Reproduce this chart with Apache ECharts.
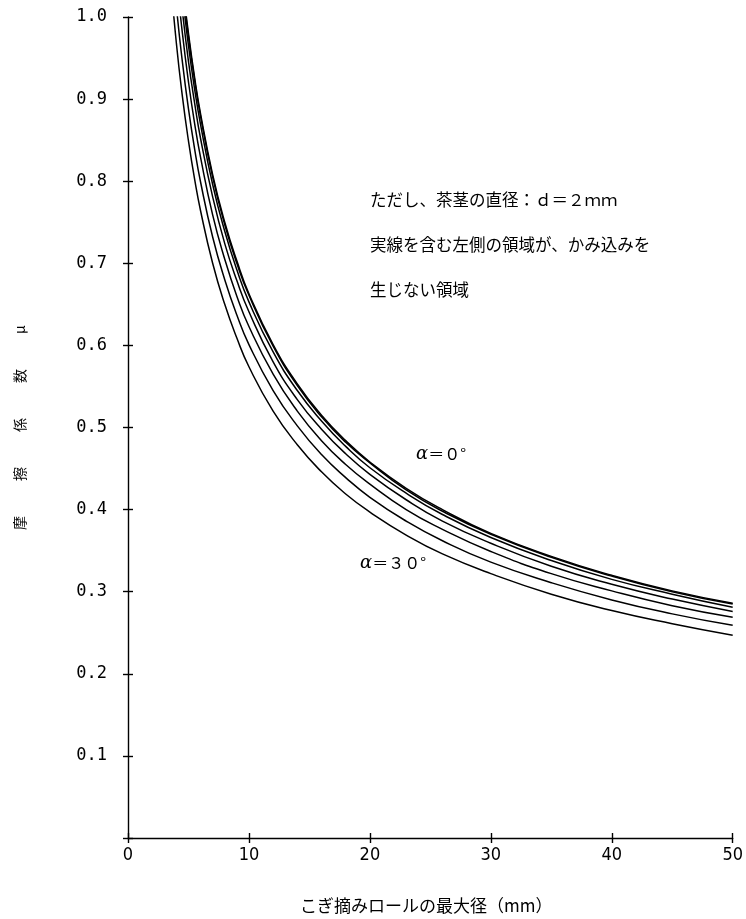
<!DOCTYPE html>
<html>
<head>
<meta charset="utf-8">
<script src="https://cdn.jsdelivr.net/npm/echarts@6/dist/echarts.min.js"></script>
<style>
  html, body { margin: 0; padding: 0; background: #fff; }
  #chart { width: 746px; height: 919px; }
</style>
</head>
<body>
<div id="chart"></div>
<script>
// Maximum roll diameter (mm)
const diameters = [3.5, 4, 4.5, 5, 5.5, 6, 7, 8, 9, 10, 12, 14, 16, 18, 20, 23, 26, 30, 35, 40, 45, 50];

// Friction coefficient limit for each inclination angle α
const alpha0  = [1.212, 1.118, 1.042, 0.980, 0.927, 0.882, 0.808, 0.750, 0.703, 0.663, 0.601, 0.553, 0.515, 0.484, 0.458, 0.426, 0.400, 0.371, 0.343, 0.320, 0.301, 0.286];
const alpha5  = [1.208, 1.114, 1.038, 0.976, 0.924, 0.879, 0.805, 0.747, 0.700, 0.661, 0.599, 0.551, 0.513, 0.482, 0.457, 0.424, 0.398, 0.370, 0.342, 0.319, 0.300, 0.285];
const alpha10 = [1.194, 1.101, 1.027, 0.965, 0.913, 0.869, 0.796, 0.739, 0.692, 0.653, 0.592, 0.545, 0.508, 0.477, 0.451, 0.420, 0.394, 0.366, 0.338, 0.315, 0.297, 0.281];
const alpha15 = [1.171, 1.080, 1.007, 0.946, 0.896, 0.852, 0.781, 0.724, 0.679, 0.641, 0.580, 0.534, 0.498, 0.468, 0.443, 0.412, 0.386, 0.359, 0.331, 0.309, 0.291, 0.276];
const alpha20 = [1.139, 1.051, 0.980, 0.921, 0.871, 0.829, 0.759, 0.705, 0.660, 0.623, 0.565, 0.520, 0.484, 0.455, 0.431, 0.400, 0.376, 0.349, 0.322, 0.301, 0.283, 0.269];
const alpha25 = [1.099, 1.013, 0.945, 0.888, 0.840, 0.799, 0.732, 0.680, 0.637, 0.601, 0.545, 0.502, 0.467, 0.439, 0.415, 0.386, 0.362, 0.336, 0.311, 0.290, 0.273, 0.259];
const alpha30 = [1.050, 0.968, 0.903, 0.849, 0.803, 0.764, 0.700, 0.650, 0.609, 0.574, 0.520, 0.479, 0.446, 0.419, 0.397, 0.369, 0.346, 0.322, 0.297, 0.277, 0.261, 0.247];

const curves = [alpha0, alpha5, alpha10, alpha15, alpha20, alpha25, alpha30];

const xTicks = [0, 10, 20, 30, 40, 50];
const yTickLabels = ['', '0.1', '0.2', '0.3', '0.4', '0.5', '0.6', '0.7', '0.8', '0.9', '1.0'];

const noteLines = [
  'ただし、茶茎の直径：ｄ＝２ｍｍ',
  '実線を含む左側の領域が、かみ込みを',
  '生じない領域'
];

const xTitle = 'こぎ摘みロールの最大径（mm）';
const yTitle = '摩　　\u2002擦　　\u2002係　　\u2002数　　\u2002μ';

const CJK = "'Noto Sans CJK JP', 'Noto Sans CJK SC', sans-serif";
const ink = '#000';

const chart = echarts.init(document.getElementById('chart'), null, { renderer: 'canvas' });

const pairs = arr => arr.map((v, i) => [diameters[i], v]);

const commonX = { type: 'value', min: 0, max: 50, interval: 10, splitLine: { show: false } };
const commonY = { type: 'value', min: 0, max: 1, interval: 0.1, splitLine: { show: false } };
const tickStyle = { color: ink, width: 1.4 };

chart.setOption({
  backgroundColor: '#fff',
  animation: false,
  grid: { left: 128, right: 6, top: 17, bottom: 81, containLabel: false },
  xAxis: [
    // axis line and labels
    Object.assign({}, commonX, {
      position: 'bottom',
      axisLine: { onZero: false, lineStyle: tickStyle },
      axisTick: { show: false },
      axisLabel: {
        margin: 8,
        color: ink,
        fontSize: 18,
        fontFamily: "'Liberation Sans Narrow', 'DejaVu Sans Condensed', sans-serif",
        formatter: v => (xTicks.indexOf(v) >= 0 ? String(v) : '')
      }
    }),
    // ticks crossing the axis line
    Object.assign({}, commonX, {
      position: 'bottom', offset: -5,
      axisLine: { show: false, onZero: false },
      axisTick: { show: true, inside: false, length: 10, lineStyle: tickStyle },
      axisLabel: { show: false }
    })
  ],
  yAxis: [
    Object.assign({}, commonY, {
      position: 'left',
      axisLine: { onZero: false, lineStyle: tickStyle },
      axisTick: { show: false },
      axisLabel: {
        margin: 21,
        color: ink,
        fontSize: 17,
        fontFamily: "'DejaVu Sans Mono', monospace",
        formatter: v => yTickLabels[Math.round(v * 10)] || ''
      },
      name: yTitle,
      nameLocation: 'middle',
      nameRotate: 90,
      nameGap: 101,
      nameTextStyle: { color: ink, fontSize: 14, fontFamily: CJK }
    }),
    Object.assign({}, commonY, {
      position: 'left', offset: -5,
      axisLine: { show: false, onZero: false },
      axisTick: { show: true, inside: false, length: 10, lineStyle: tickStyle },
      axisLabel: { show: false }
    })
  ],
  series: curves.map((c, i) => ({
    name: 'α=' + (i * 5) + '°',
    type: 'line',
    data: pairs(c),
    xAxisIndex: 0,
    yAxisIndex: 0,
    smooth: 0.5,
    showSymbol: false,
    symbol: 'none',
    clip: true,
    lineStyle: { color: ink, width: 1.5 }
  })),
  graphic: [
    {
      type: 'text', left: 370, top: 191,
      style: { text: noteLines[0], fill: ink, font: "16.5px " + CJK }
    },
    {
      type: 'text', left: 370, top: 236,
      style: { text: noteLines[1], fill: ink, font: "16.5px " + CJK }
    },
    {
      type: 'text', left: 370, top: 281,
      style: { text: noteLines[2], fill: ink, font: "16.5px " + CJK }
    },
    {
      type: 'text', left: 416, top: 445,
      style: {
        text: '{a|α}＝０°',
        rich: { a: { fontStyle: 'italic', fontSize: 18, fontFamily: "'DejaVu Serif', serif", fill: ink } },
        fill: ink, font: "16px " + CJK
      }
    },
    {
      type: 'text', left: 360, top: 554,
      style: {
        text: '{a|α}＝３０°',
        rich: { a: { fontStyle: 'italic', fontSize: 18, fontFamily: "'DejaVu Serif', serif", fill: ink } },
        fill: ink, font: "16px " + CJK
      }
    },
    {
      type: 'text', left: 300, top: 897,
      style: { text: xTitle, fill: ink, font: "17px " + CJK }
    }
  ]
});
</script>
</body>
</html>
